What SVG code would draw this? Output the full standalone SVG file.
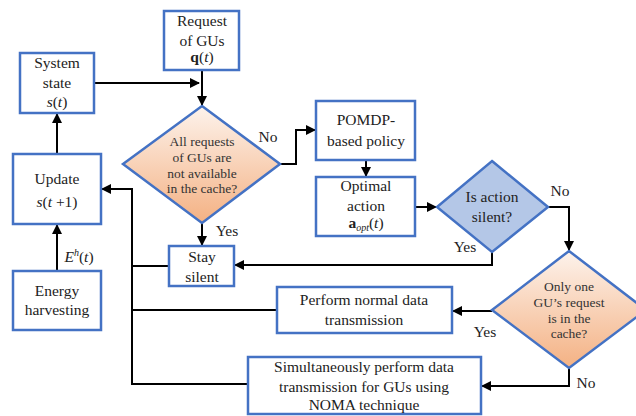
<svg xmlns="http://www.w3.org/2000/svg" width="636" height="416" viewBox="0 0 636 416" font-family="Liberation Serif, DejaVu Serif, serif">
<style>
.box{fill:#fff;stroke:#4472C4;stroke-width:2.5}
.t{font-size:15.5px;fill:#222;text-anchor:middle}
.s{font-size:13.5px;fill:#333;text-anchor:middle}
.c{fill:none;stroke:#000;stroke-width:2}
.i{font-style:italic}
</style>
<defs>
<linearGradient id="og" x1="0" y1="0" x2="0" y2="1">
<stop offset="0" stop-color="#FDF3EC"/>
<stop offset="1" stop-color="#F4B183"/>
</linearGradient>
<marker id="ah" markerWidth="10" markerHeight="10" refX="9" refY="5" orient="auto" markerUnits="userSpaceOnUse">
<path d="M0,0 L10,5 L0,10 Z" fill="#000"/>
</marker>
</defs>
<g id="connectors">
<path class="c" d="M94,83 H199" marker-end="url(#ah)"/>
<path class="c" d="M202,70 V105" marker-end="url(#ah)"/>
<path class="c" d="M280,164 H296 V130 H315" marker-end="url(#ah)"/>
<path class="c" d="M366,160 V176" marker-end="url(#ah)"/>
<path class="c" d="M415,207 H436" marker-end="url(#ah)"/>
<path class="c" d="M548,207 H569 V250" marker-end="url(#ah)"/>
<path class="c" d="M492,252 V265 H235" marker-end="url(#ah)"/>
<path class="c" d="M202,223 V245" marker-end="url(#ah)"/>
<path class="c" d="M492,311 H453" marker-end="url(#ah)"/>
<path class="c" d="M569,368 V386 H482" marker-end="url(#ah)"/>
<path class="c" d="M57,154 V114" marker-end="url(#ah)"/>
<path class="c" d="M57,271 V225" marker-end="url(#ah)"/>
<path class="c" d="M169,266 H132"/>
<path class="c" d="M277,310 H132"/>
<path class="c" d="M248,384 H132 V189 H102" marker-end="url(#ah)"/>
</g>
<g id="labels">
<text class="t" x="268" y="142">No</text>
<text class="t" x="560" y="196">No</text>
<text class="t" x="465" y="252">Yes</text>
<text class="t" x="227" y="236">Yes</text>
<text class="t" x="485" y="337">Yes</text>
<text class="t" x="586" y="388">No</text>
<text class="t" x="79" y="262"><tspan class="i">E</tspan><tspan class="i" font-size="10" dy="-6">h</tspan><tspan dy="6">(</tspan><tspan class="i">t</tspan>)</text>
</g>
<g id="request">
<rect class="box" x="164" y="11" width="75" height="59"/>
<text class="t" x="202" y="26">Request</text>
<text class="t" x="202" y="46">of GUs</text>
<text class="t" x="202" y="62"><tspan font-weight="bold">q</tspan>(<tspan class="i">t</tspan>)</text>
</g>
<g id="system-state">
<rect class="box" x="20" y="53" width="74" height="60"/>
<text class="t" x="57" y="68">System</text>
<text class="t" x="57" y="88">state</text>
<text class="t" x="57" y="107"><tspan class="i">s</tspan>(<tspan class="i">t</tspan>)</text>
</g>
<g id="decision-cache">
<path d="M202,106 L280,164 L202,223 L123,164 Z" fill="url(#og)" stroke="#4472C4" stroke-width="2.5"/>
<text class="s" x="202" y="146">All requests</text>
<text class="s" x="202" y="162">of GUs are</text>
<text class="s" x="202" y="178">not available</text>
<text class="s" x="202" y="193">in the cache?</text>
</g>
<g id="pomdp">
<rect class="box" x="316" y="101" width="99" height="59"/>
<text class="t" x="366" y="125">POMDP-</text>
<text class="t" x="366" y="146">based policy</text>
</g>
<g id="optimal-action">
<rect class="box" x="316" y="177" width="99" height="59"/>
<text class="t" x="366" y="191">Optimal</text>
<text class="t" x="366" y="211">action</text>
<text class="t" x="366" y="228"><tspan font-weight="bold">a</tspan><tspan class="i" font-size="10" dy="3">opt</tspan><tspan dy="-3">(</tspan><tspan class="i">t</tspan>)</text>
</g>
<g id="decision-silent">
<path d="M492,161 L548,207 L492,252 L437,207 Z" fill="#B4C7E7" stroke="#4472C4" stroke-width="2.5"/>
<text class="t" x="492" y="202">Is action</text>
<text class="t" x="492" y="222">silent?</text>
</g>
<g id="update">
<rect class="box" x="13" y="154" width="88" height="70"/>
<text class="t" x="57" y="184">Update</text>
<text class="t" x="57" y="207"><tspan class="i">s</tspan>(<tspan class="i">t</tspan> +1)</text>
</g>
<g id="stay-silent">
<rect class="box" x="169" y="246" width="65" height="40"/>
<text class="t" x="202" y="262">Stay</text>
<text class="t" x="202" y="282">silent</text>
</g>
<g id="energy">
<rect class="box" x="13" y="271" width="88" height="59"/>
<text class="t" x="57" y="296">Energy</text>
<text class="t" x="57" y="315">harvesting</text>
</g>
<g id="normal-transmission">
<rect class="box" x="277" y="287" width="175" height="46"/>
<text class="t" x="364" y="305">Perform normal data</text>
<text class="t" x="364" y="325">transmission</text>
</g>
<g id="decision-one">
<path d="M569,251 L646,310 L569,368 L492,310 Z" fill="url(#og)" stroke="#4472C4" stroke-width="2.5"/>
<text class="s" x="569" y="291">Only one</text>
<text class="s" x="569" y="307">GU’s request</text>
<text class="s" x="569" y="323">is in the</text>
<text class="s" x="569" y="338">cache?</text>
</g>
<g id="noma-transmission">
<rect class="box" x="248" y="357" width="233" height="57"/>
<text class="t" x="364" y="372">Simultaneously perform data</text>
<text class="t" x="364" y="392">transmission for GUs using</text>
<text class="t" x="364" y="410">NOMA technique</text>
</g>
</svg>
